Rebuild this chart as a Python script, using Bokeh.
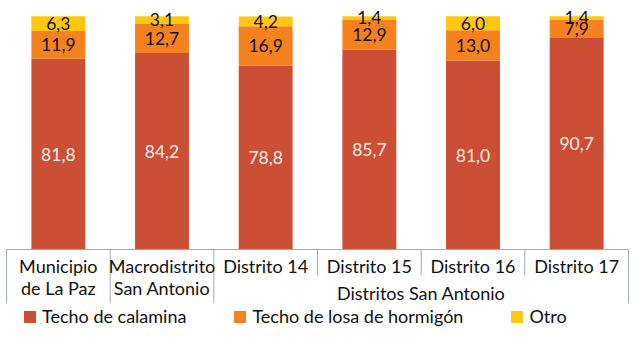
import numpy as np
from bokeh.plotting import figure
from bokeh.models import Range1d, Legend, LegendItem, ColumnDataSource
from bokeh.core.properties import value
from bokeh.embed import file_html
from bokeh.resources import INLINE

# ---- data ----
categories = ["Municipio\nde La Paz", "Macrodistrito\nSan Antonio", "Distrito 14",
              "Distrito 15", "Distrito 16", "Distrito 17"]
groups = [None, None, "Distritos San Antonio", "Distritos San Antonio",
          "Distritos San Antonio", "Distritos San Antonio"]
series_names = ["Techo de calamina", "Techo de losa de hormigón", "Otro"]
calamina = [81.8, 84.2, 78.8, 85.7, 81.0, 90.7]
losa = [11.9, 12.7, 16.9, 12.9, 13.0, 7.9]
otro = [6.3, 3.1, 4.2, 1.4, 6.0, 1.4]

colors = ["#CB4F34", "#F6821F", "#FFC710"]
axis_color = "#9DABB8"
FONT = "Lato"
LBL = "18px"
DLBL = "17.5px"

def fmt(v):
    return f"{v:.1f}".replace(".", ",")

n = len(categories)
x = np.arange(n) + 0.5
cal = np.array(calamina)
los = np.array(losa)
otr = np.array(otro)

src = ColumnDataSource(dict(
    x=x, cal=cal, los=los, otr=otr,
    y_cal=cal / 2, y_los=cal + los / 2, y_otr=cal + los + otr / 2,
    t_cal=[fmt(v) for v in cal], t_los=[fmt(v) for v in los], t_otr=[fmt(v) for v in otr],
))

p = figure(width=633, height=339,
           x_range=Range1d(-0.0579, 6.0482), y_range=Range1d(-38.57, 106.73),
           output_backend="svg", toolbar_location=None, min_border=0,
           outline_line_color=None, x_axis_type=None, y_axis_type=None)
p.background_fill_color = "white"

rs = p.vbar_stack(["cal", "los", "otr"], x="x", width=0.52, source=src,
                  fill_color=colors, line_color=None)

# data labels
p.text(x="x", y="y_cal", text="t_cal", source=src, text_align="center",
       text_baseline="middle", text_font=value(FONT), text_font_size=DLBL,
       text_color="#FBEDE9")
p.text(x="x", y="y_los", text="t_los", source=src, text_align="center",
       text_baseline="middle", text_font=value(FONT), text_font_size=DLBL,
       text_color="#111111")
p.text(x="x", y="y_otr", text="t_otr", source=src, text_align="center",
       text_baseline="middle", text_font=value(FONT), text_font_size=DLBL,
       text_color="#111111")

# category axis (drawn)
p.segment(x0=[0], y0=[0], x1=[n], y1=[0], line_color=axis_color, line_width=1)
edges = np.arange(n + 1)
long_y, short_y = -23.1, -11.1
ends = []
for i in edges:
    if i == 0 or i == n or groups[i - 1] is None or groups[i] is None or groups[i - 1] != groups[i]:
        ends.append(long_y)
    else:
        ends.append(short_y)
p.segment(x0=edges, y0=[0] * (n + 1), x1=edges, y1=ends, line_color=axis_color, line_width=1)

line1 = [c.split("\n")[0] for c in categories]
line2 = [c.split("\n")[1] if "\n" in c else "" for c in categories]
p.text(x=x, y=[-7.0] * n, text=line1, text_align="center", text_baseline="middle",
       text_font=value(FONT), text_font_size=LBL, text_color="#111111")
p.text(x=x, y=[-16.7] * n, text=line2, text_align="center", text_baseline="middle",
       text_font=value(FONT), text_font_size=LBL, text_color="#111111")

# group label
gnames = [g for g in dict.fromkeys(groups) if g is not None]
gx = [np.mean([x[i] for i in range(n) if groups[i] == g]) for g in gnames]
p.text(x=gx, y=[-18.5] * len(gnames), text=gnames, text_align="center",
       text_baseline="middle", text_font=value(FONT), text_font_size=LBL,
       text_color="#111111")

legend = Legend(items=[LegendItem(label=nm, renderers=[r]) for nm, r in zip(series_names, rs)],
                orientation="horizontal", location=(22, 12),
                glyph_width=15, glyph_height=15, label_standoff=5, spacing=46,
                padding=0, margin=0, border_line_color=None, background_fill_alpha=0,
                label_text_font=FONT, label_text_font_size=LBL, label_height=15,
                label_text_color="#111111")
p.add_layout(legend)

open("out.html", "w").write(file_html(p, INLINE))
